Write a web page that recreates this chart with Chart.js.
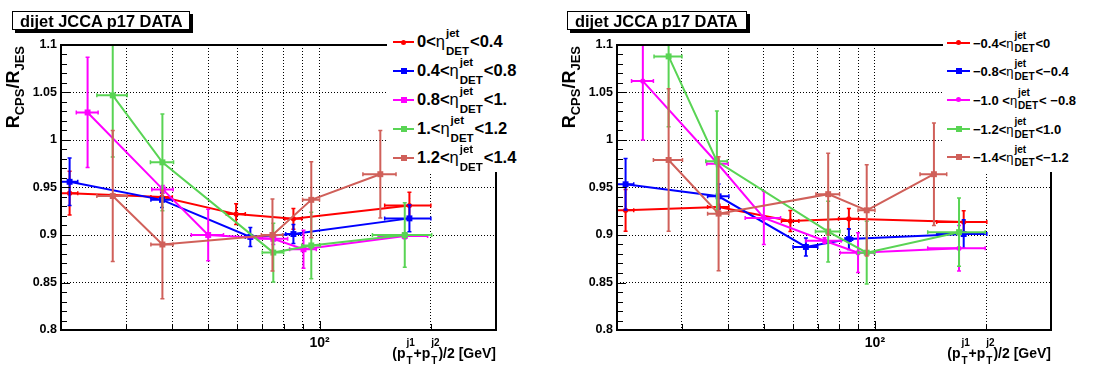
<!DOCTYPE html>
<html>
<head>
<meta charset="utf-8">
<script src="https://cdn.jsdelivr.net/npm/chart.js@4.4.0/dist/chart.umd.min.js"></script>
<style>
body { margin: 0; background: #fff; font-family: "Liberation Sans", Arial, sans-serif; font-weight: bold; color: #000; }
.panel { position: absolute; top: 0; height: 369px; overflow: hidden; }
.tbox { position: absolute; top: 11px; height: 19px; border: 1px solid #000; box-shadow: 3px 3px 0 #000; background: #fff;
        font-size: 16.4px; line-height: 19px; padding-left: 7px; white-space: nowrap; box-sizing: border-box; }
.leg { position: absolute; top: 26px; height: 146px; background: #fff; }
.ent { position: absolute; left: 0; height: 0; }
.ln { position: absolute; top: -1px; height: 2px; }
.mk { position: absolute; }
.tx { position: absolute; white-space: nowrap; }
.ss { position: relative; display: inline-block; margin: 0 1px; }
.ss .sb { position: relative; }
.ss .sp { position: absolute; left: 0; }
.eta { font-weight: normal; }
.ytl { position: absolute; width: 200px; text-align: right; transform: rotate(-90deg); transform-origin: 0 0;
       font-size: 18px; line-height: 18px; white-space: nowrap; }
.ytl span { font-size: 13px; position: relative; top: 5px; }
.xtl { position: absolute; font-size: 14px; line-height: 14px; white-space: nowrap; }
</style>
</head>
<body>
<div class="panel" id="pL" style="left:0;width:546px">
  <canvas id="cL" width="546" height="369"></canvas>
  <div class="tbox" style="left:12px;width:178px">dijet JCCA p17 DATA</div>
  <div class="ytl" style="left:4px;top:246px">R<span>CPS</span>/R<span>JES</span></div>
  <div class="xtl" style="right:50px;top:346px">(p<span class="ss"><span class="sb">T</span><span class="sp">j1</span></span>+p<span class="ss"><span class="sb">T</span><span class="sp">j2</span></span>)/2 [GeV]</div>
</div>
<div class="panel" id="pR" style="left:546px;width:547px">
  <canvas id="cR" width="547" height="369"></canvas>
  <div class="tbox" style="left:21px;width:180px">dijet JCCA p17 DATA</div>
  <div class="ytl" style="left:14px;top:246px">R<span>CPS</span>/R<span>JES</span></div>
  <div class="xtl" style="right:42px;top:346px">(p<span class="ss"><span class="sb">T</span><span class="sp">j1</span></span>+p<span class="ss"><span class="sb">T</span><span class="sp">j2</span></span>)/2 [GeV]</div>
</div>
<script>
// axis ticks
const xTicks = [20, 30, 40, 50, 60, 70, 80, 90, 100, 200, 300];
const yTicks = [0.8, 0.85, 0.9, 0.95, 1.0, 1.05, 1.1];

const colors = ['#ff0000', '#0000ff', '#ff00ff', '#59d454', '#d0605a'];

// left panel: 0 < eta < 1.4
const L0_x = [21.1, 37.5, 59.5, 85, 175];
const L0_y = [0.944, 0.940, 0.922, 0.917, 0.931];
const L0_ex = [1.1, 2.5, 3.5, 4.5, 25];
const L0_ey = [0.023, 0.004, 0.011, 0.011, 0.014];

const L1_x = [21.1, 37.5, 65, 85, 175];
const L1_y = [0.956, 0.937, 0.898, 0.901, 0.9175];
const L1_ex = [1.1, 2.5, 2, 4, 25];
const L1_ey = [0.025, 0.008, 0.010, 0.010, 0.014];

const L2_x = [23.6, 37.7, 50, 75, 90.5, 170];
const L2_y = [1.029, 0.948, 0.900, 0.896, 0.885, 0.899];
const L2_ex = [1.6, 2.5, 5, 7, 7.5, 26];
const L2_ey = [0.058, 0.004, 0.027, 0.006, 0.020, 0.003];

const L3_x = [27.6, 37.6, 75, 95, 170];
const L3_y = [1.047, 0.9765, 0.8815, 0.889, 0.900];
const L3_ex = [2.6, 2.7, 5, 5.5, 31];
const L3_ey = [0.065, 0.051, 0.031, 0.035, 0.034];

const L4_x = [27.6, 37.6, 74.6, 95, 146];
const L4_y = [0.941, 0.890, 0.900, 0.937, 0.964];
const L4_ex = [2.6, 2.6, 5, 5, 15];
const L4_ey = [0.069, 0.057, 0.038, 0.040, 0.046];

// right panel: -1.4 < eta < 0
const R0_x = [21.1, 37.7, 59, 85, 174];
const R0_y = [0.926, 0.9295, 0.9147, 0.917, 0.9136];
const R0_ex = [1.1, 2.5, 3.2, 5.3, 27];
const R0_ey = [0.022, 0.003, 0.011, 0.011, 0.012];

const R1_x = [21.1, 37.7, 65, 85, 174];
const R1_y = [0.9534, 0.9407, 0.8874, 0.8957, 0.901];
const R1_ex = [1.1, 2.5, 5, 2, 27];
const R1_ey = [0.027, 0.013, 0.0095, 0.011, 0.015];

const R2_x = [23.5, 37.5, 50, 73, 90, 169];
const R2_y = [1.062, 0.975, 0.918, 0.894, 0.8814, 0.886];
const R2_ex = [1.6, 2.5, 5.5, 8, 9.5, 30];
const R2_ey = [0.062, 0.003, 0.028, 0.003, 0.021, 0.024];

const R3_x = [27.6, 37.3, 74.7, 95, 169];
const R3_y = [1.088, 0.9776, 0.9036, 0.8814, 0.903];
const R3_ex = [2.4, 2.5, 5.7, 5, 30];
const R3_ey = [0.074, 0.053, 0.032, 0.033, 0.036];

const R4_x = [27.6, 37.7, 74.7, 95, 144.5];
const R4_y = [0.979, 0.9225, 0.943, 0.926, 0.964];
const R4_ex = [2.5, 2.5, 5.5, 5, 12];
const R4_ey = [0.075, 0.060, 0.043, 0.048, 0.054];

// legend labels: text before / after eta^jet_DET
const legL_pre = ['0<', '0.4<', '0.8<', '1.<', '1.2<'];
const legL_post = ['<0.4', '<0.8', '<1.', '<1.2', '<1.4'];
const legR_pre = ['\u22120.4<', '\u22120.8<', '\u22121.0 <', '\u22121.2<', '\u22121.4<'];
const legR_post = ['<0', '<\u22120.4', '< \u22120.8', '<1.0', '<\u22121.2'];

const shapesL = ['circle', 'rect', 'rect', 'rect', 'rect'];
const shapesR = ['circle', 'rect', 'circle', 'rect', 'rect'];

function mkSets(xs, ys, exs, eys, shapes) {
    return xs.map((xv, k) => ({
        data: xv.map((v, i) => ({x: v, y: ys[k][i]})),
        xErr: exs[k],
        yErr: eys[k],
        showLine: true,
        borderColor: colors[k],
        backgroundColor: colors[k],
        borderWidth: 2,
        pointStyle: shapes[k],
        pointRadius: shapes[k] == 'circle' ? 2.6 : 4.2,
        pointBorderWidth: 0,
        order: 4 - k
    }));
}

// error bars, drawn right after each dataset
const errorBars = {
    id: 'errorBars',
    afterDatasetDraw(chart, args) {
        const ds = chart.data.datasets[args.index];
        const xs = chart.scales.x, ys = chart.scales.y, a = chart.chartArea;
        const ctx = chart.ctx;
        ctx.save();
        ctx.beginPath();
        ctx.rect(a.left, a.top, a.right - a.left, a.bottom - a.top);
        ctx.clip();
        ctx.strokeStyle = ds.borderColor;
        ds.data.forEach((p, i) => {
            const px = xs.getPixelForValue(p.x), py = ys.getPixelForValue(p.y);
            const x1 = xs.getPixelForValue(p.x - ds.xErr[i]), x2 = xs.getPixelForValue(p.x + ds.xErr[i]);
            const y1 = ys.getPixelForValue(p.y + ds.yErr[i]), y2 = ys.getPixelForValue(p.y - ds.yErr[i]);
            ctx.lineWidth = 2;
            ctx.beginPath();
            ctx.moveTo(x1, py); ctx.lineTo(x2, py);
            ctx.moveTo(px, y1); ctx.lineTo(px, y2);
            ctx.stroke();
            ctx.lineWidth = 1.5;
            ctx.beginPath();
            ctx.moveTo(x1, py - 2); ctx.lineTo(x1, py + 2);
            ctx.moveTo(x2, py - 2); ctx.lineTo(x2, py + 2);
            ctx.moveTo(px - 2, y1); ctx.lineTo(px + 2, y1);
            ctx.moveTo(px - 2, y2); ctx.lineTo(px + 2, y2);
            ctx.stroke();
        });
        ctx.restore();
    }
};

// frame and inward tick marks
const frame = {
    id: 'frame',
    afterDraw(chart) {
        const ctx = chart.ctx, a = chart.chartArea;
        const xs = chart.scales.x, ys = chart.scales.y;
        ctx.save();
        ctx.strokeStyle = '#000';
        ctx.lineWidth = 1;
        ctx.beginPath();
        for (let v = 0.8; v < 1.1 + 1e-9; v += 0.01) {
            const py = Math.round(ys.getPixelForValue(v)) + 0.5;
            const major = Math.abs(v * 20 - Math.round(v * 20)) < 1e-6;
            ctx.moveTo(a.left, py); ctx.lineTo(a.left + (major ? 9 : 6), py);
        }
        xTicks.forEach(v => {
            const px = Math.round(xs.getPixelForValue(v)) + 0.5;
            ctx.moveTo(px, a.bottom); ctx.lineTo(px, a.bottom - (v == 100 ? 9 : 6));
        });
        ctx.stroke();
        ctx.lineWidth = 2;
        ctx.strokeRect(a.left, a.top, a.right - a.left, a.bottom - a.top);
        ctx.restore();
    }
};

function makeChart(id, sets, padL, padR) {
    return new Chart(document.getElementById(id), {
        type: 'scatter',
        data: {datasets: sets},
        options: {
            responsive: false,
            animation: false,
            devicePixelRatio: 1,
            layout: {padding: {left: padL, right: padR, top: 45, bottom: 0}},
            plugins: {legend: {display: false}, tooltip: {enabled: false}},
            scales: {
                x: {
                    type: 'logarithmic', min: 20, max: 300,
                    afterBuildTicks: s => { s.ticks = xTicks.map(v => ({value: v})); },
                    afterFit: s => { s.height = 39; },
                    grid: {color: c => (c.tick && (c.tick.value == 20 || c.tick.value == 300)) ? 'rgba(0,0,0,0)' : '#000',
                           lineWidth: 1, drawTicks: false},
                    border: {display: false, dash: [1, 2]},
                    ticks: {autoSkip: false, maxRotation: 0, padding: 5, color: '#000',
                            font: {family: 'Liberation Sans', size: 14, weight: 'bold'},
                            callback: v => v == 100 ? '10\u00b2' : ''}
                },
                y: {
                    type: 'linear', min: 0.8, max: 1.1,
                    afterBuildTicks: s => { s.ticks = yTicks.map(v => ({value: v})); },
                    afterFit: s => { s.width = 45; },
                    grid: {color: '#000', lineWidth: 1, drawTicks: false},
                    border: {display: false, dash: [1, 2]},
                    ticks: {padding: 4, color: '#000',
                            font: {family: 'Liberation Sans', size: 12.5, weight: 'bold'},
                            callback: v => String(parseFloat(v.toFixed(2)))}
                }
            }
        },
        plugins: [errorBars, frame]
    });
}

makeChart('cL', mkSets([L0_x, L1_x, L2_x, L3_x, L4_x], [L0_y, L1_y, L2_y, L3_y, L4_y],
    [L0_ex, L1_ex, L2_ex, L3_ex, L4_ex], [L0_ey, L1_ey, L2_ey, L3_ey, L4_ey], shapesL), 16, 50);
makeChart('cR', mkSets([R0_x, R1_x, R2_x, R3_x, R4_x], [R0_y, R1_y, R2_y, R3_y, R4_y],
    [R0_ex, R1_ex, R2_ex, R3_ex, R4_ex], [R0_ey, R1_ey, R2_ey, R3_ey, R4_ey], shapesR), 26, 42);

// legends (html, so the eta sub/superscripts stack like ROOT's TLatex)
function buildLegend(panelId, left, width, pre, post, shapes, o) {
    const leg = document.createElement('div');
    leg.className = 'leg';
    leg.style.left = left + 'px';
    leg.style.width = width + 'px';
    pre.forEach((p, i) => {
        const e = document.createElement('div');
        e.className = 'ent';
        e.style.top = (o.y0 + o.dy * i - 26) + 'px';
        const sz = shapes[i] == 'circle' ? 5 : 6;
        e.innerHTML =
            '<span class="ln" style="left:' + o.lx + 'px;width:' + o.lw + 'px;background:' + colors[i] + '"></span>' +
            '<span class="mk" style="left:' + (o.lx + o.lw / 2 - sz / 2) + 'px;top:' + (-sz / 2) + 'px;width:' + sz + 'px;height:' + sz +
            'px;background:' + colors[i] + ';border-radius:' + (shapes[i] == 'circle' ? '50%' : '0') + '"></span>' +
            '<span class="tx" style="left:' + o.tx + 'px;top:' + (o.base - 0.8465 * o.fs) + 'px;font-size:' + o.fs + 'px;line-height:' + o.fs + 'px">' +
            p.replace(/</g, '&lt;') + '<span class="eta">\u03b7</span>' +
            '<span class="ss" style="font-size:' + o.fss + 'px;line-height:' + o.fss + 'px">' +
            '<span class="sb" style="top:' + o.dsub + 'px">DET</span>' +
            '<span class="sp" style="top:' + (-o.dsup) + 'px">jet</span></span>' +
            post[i].replace(/</g, '&lt;') + '</span>';
        leg.appendChild(e);
    });
    document.getElementById(panelId).appendChild(leg);
}

buildLegend('pL', 387, 159, legL_pre, legL_post, shapesL,
    {y0: 42, dy: 29, lx: 6, lw: 21, tx: 30, base: 4.5, fs: 16.5, fss: 11.5, dsub: 8, dsup: 10});
buildLegend('pR', 397, 150, legR_pre, legR_post, shapesR,
    {y0: 42.5, dy: 28.7, lx: 4, lw: 23, tx: 30, base: 5, fs: 13, fss: 10, dsub: 4, dsup: 9});

// sub/superscripts of the x title
document.querySelectorAll('.xtl .ss').forEach(s => {
    s.style.fontSize = '10px';
    s.style.lineHeight = '10px';
    s.querySelector('.sb').style.top = '6px';
    s.querySelector('.sp').style.top = '-12px';
});
</script>
</body>
</html>
